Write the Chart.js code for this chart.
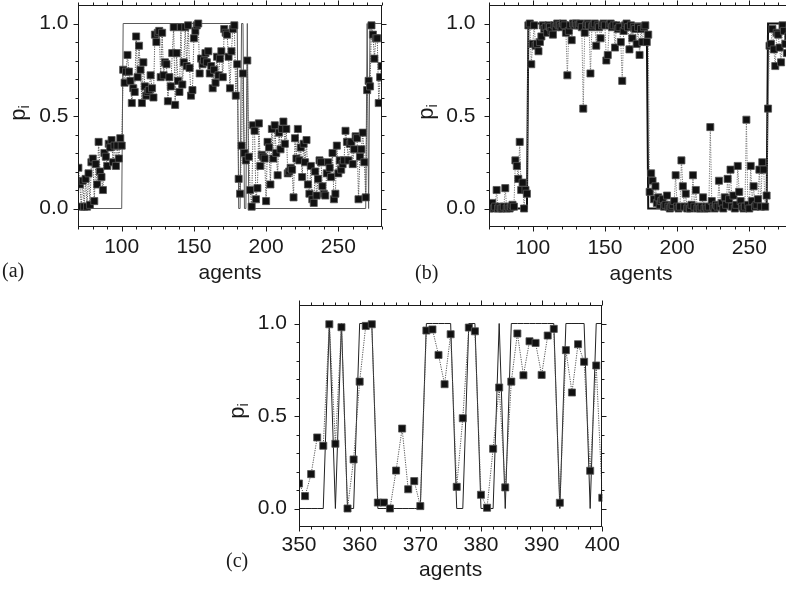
<!DOCTYPE html>
<html>
<head>
<meta charset="utf-8">
<script src="https://cdn.jsdelivr.net/npm/chart.js@4.4.0/dist/chart.umd.min.js"></script>
<style>
  html, body { margin: 0; padding: 0; background: #fff; width: 786px; height: 589px; overflow: hidden; }
  canvas { position: absolute; }
</style>
</head>
<body>
<canvas id="chartA" width="390" height="290" style="left:0;top:0"></canvas>
<canvas id="chartB" width="410" height="290" style="left:390px;top:0"></canvas>
<canvas id="chartC" width="440" height="299" style="left:200px;top:290px"></canvas>
<script>
// first agent index of panels (a) and (b); one p value per agent from here on
const firstAgentAB = 70;

// panel (a): measured p_i, agents 70..280
const pA = [
  0.22, 0.13, 0.01, 0.15, 0.01, 0.16, 0.01, 0.19, 0.02, 0.25,
  0.27, 0.04, 0.24, 0.13, 0.36, 0.20, 0.17, 0.10, 0.30, 0.28,
  0.23, 0.35, 0.33, 0.37, 0.25, 0.34, 0.23, 0.34, 0.27, 0.38,
  0.34, 0.75, 0.68, 0.74, 0.83, 0.74, 0.69, 0.57, 0.65, 0.63,
  0.93, 0.71, 0.88, 0.75, 0.57, 0.79, 0.66, 0.61, 0.63, 0.64,
  0.72, 0.65, 0.60, 0.94, 0.90, 0.95, 0.96, 0.71, 0.95, 0.72,
  0.79, 0.78, 0.58, 0.71, 0.66, 0.84, 0.98, 0.56, 0.84, 0.69,
  0.63, 0.98, 0.67, 0.79, 0.98, 0.77, 0.99, 0.76, 0.61, 0.64,
  0.92, 0.96, 0.99, 1.00, 0.73, 0.81, 0.78, 0.80, 0.84, 0.79,
  0.85, 0.73, 0.77, 0.65, 0.75, 0.68, 0.82, 0.72, 0.81, 0.85,
  0.71, 0.97, 0.95, 0.94, 0.82, 0.65, 0.85, 0.97, 0.99, 0.61,
  0.78, 0.16, 0.08, 0.34, 0.73, 0.30, 0.26, 0.80, 0.28, 0.10,
  0.01, 0.45, 0.42, 0.05, 0.11, 0.46, 0.23, 0.29, 0.28, 0.27,
  0.04, 0.36, 0.33, 0.13, 0.43, 0.27, 0.45, 0.30, 0.18, 0.41,
  0.32, 0.43, 0.47, 0.35, 0.43, 0.19, 0.20, 0.22, 0.21, 0.06,
  0.38, 0.27, 0.43, 0.26, 0.33, 0.17, 0.35, 0.25, 0.37, 0.13,
  0.08, 0.23, 0.05, 0.03, 0.20, 0.07, 0.16, 0.26, 0.25, 0.12,
  0.08, 0.07, 0.19, 0.25, 0.22, 0.17, 0.30, 0.05, 0.08, 0.34,
  0.19, 0.26, 0.21, 0.24, 0.26, 0.42, 0.36, 0.26, 0.35, 0.36,
  0.24, 0.32, 0.39, 0.38, 0.05, 0.28, 0.32, 0.41, 0.25, 0.06,
  0.64, 0.69, 0.66, 0.99, 0.94, 0.81, 0.92, 0.92, 0.57, 0.71,
  0.77
];
// panel (a): agent states, corner points of the 0/1 line
const stateAx = [70, 100, 101, 180, 181, 182, 183, 184, 185, 186, 187, 188, 269, 270, 271, 272, 280];
const stateAy = [0, 0, 1, 1, 0, 0, 1, 1, 0, 0, 1, 0, 0, 1, 0, 1, 1];

// panel (b): measured p_i, agents 70..280
const pB = [
  0.00, 0.01, 0.03, 0.00, 0.01, 0.10, 0.00, 0.01, 0.00, 0.00,
  0.01, 0.11, 0.00, 0.01, 0.00, 0.01, 0.02, 0.01, 0.26, 0.23,
  0.16, 0.36, 0.10, 0.14, 0.00, 0.10, 0.08, 0.99, 1.00, 0.78,
  0.89, 0.99, 0.88, 0.89, 0.85, 0.90, 0.93, 0.99, 0.97, 0.98,
  0.95, 0.99, 0.98, 0.96, 0.94, 0.99, 0.98, 1.00, 0.99, 0.99,
  0.98, 1.00, 0.99, 0.95, 0.72, 0.96, 0.99, 0.91, 1.00, 0.99,
  1.00, 0.99, 0.99, 1.00, 0.98, 0.54, 0.95, 0.99, 1.00, 0.99,
  0.73, 0.98, 0.99, 1.00, 0.88, 0.99, 0.98, 0.92, 0.99, 1.00,
  0.99, 0.80, 0.83, 0.99, 1.00, 0.98, 0.99, 0.87, 0.99, 0.97,
  0.98, 0.90, 0.69, 0.96, 0.99, 1.00, 0.98, 0.86, 0.99, 0.92,
  0.98, 0.97, 0.89, 0.98, 0.83, 0.97, 0.90, 0.98, 0.99, 0.90,
  0.94, 0.09, 0.19, 0.15, 0.05, 0.12, 0.03, 0.06, 0.02, 0.04,
  0.05, 0.01, 0.02, 0.07, 0.01, 0.00, 0.01, 0.02, 0.04, 0.18,
  0.01, 0.00, 0.01, 0.26, 0.12, 0.01, 0.08, 0.00, 0.01, 0.00,
  0.02, 0.18, 0.01, 0.10, 0.00, 0.01, 0.00, 0.01, 0.06, 0.00,
  0.01, 0.00, 0.01, 0.44, 0.04, 0.01, 0.00, 0.02, 0.01, 0.15,
  0.01, 0.03, 0.00, 0.06, 0.02, 0.16, 0.05, 0.21, 0.01, 0.07,
  0.00, 0.02, 0.23, 0.09, 0.04, 0.01, 0.00, 0.01, 0.48, 0.02,
  0.00, 0.23, 0.04, 0.12, 0.01, 0.02, 0.05, 0.21, 0.01, 0.25,
  0.21, 0.01, 0.07, 0.54, 0.88, 0.89, 0.97, 0.86, 0.77, 0.95,
  0.94, 0.87, 0.79, 0.99, 0.96, 0.89, 0.84, 0.93, 0.97, 0.90,
  0.88
];
const stateBx = [70, 96, 97, 179, 180, 262, 263, 280];
const stateBy = [0, 0, 1, 1, 0, 0, 1, 1];

// panel (c): agents 350..400
const agentsC = [
  350, 351, 352, 353, 354, 355, 356, 357, 358, 359,
  360, 361, 362, 363, 364, 365, 366, 367, 368, 369,
  370, 371, 372, 373, 374, 375, 376, 377, 378, 379,
  380, 381, 382, 383, 384, 385, 386, 387, 388, 389,
  390, 391, 392, 393, 394, 395, 396, 397, 398, 399,
  400
];
const pC = [
  0.135, 0.067, 0.186, 0.384, 0.339, 0.996, 0.350, 0.980, 0.000, 0.265,
  0.686, 0.987, 0.996, 0.032, 0.032, 0.000, 0.205, 0.432, 0.104, 0.148,
  0.013, 0.962, 0.968, 0.830, 0.672, 0.942, 0.117, 0.488, 0.978, 0.958,
  0.074, 0.004, 0.323, 0.654, 0.114, 0.686, 0.946, 0.720, 0.904, 0.895,
  0.722, 0.935, 0.971, 0.031, 0.856, 0.627, 0.888, 0.793, 0.204, 0.773,
  0.058
];
const stateC = [
  0, 0, 0, 0, 0, 1, 0, 1, 0, 0,
  1, 1, 1, 0, 0, 0, 0, 0, 0, 0,
  0, 1, 1, 1, 1, 1, 0, 0, 1, 1,
  0, 0, 0, 1, 0, 1, 1, 1, 1, 1,
  1, 1, 1, 0, 1, 1, 1, 1, 0, 1,
  1
];

const xTicksAB = [100, 150, 200, 250];
const xTicksC = [350, 360, 370, 380, 390, 400];
const yTicks = [0, 0.5, 1];

const ink = '#1a1a1a';
const sans = "'Liberation Sans', Arial, sans-serif";
const serif = "'Liberation Serif', 'Times New Roman', serif";

// box around the plot, outward major/minor ticks on all four sides,
// the rotated p_i axis title and the panel letter
const framePlugin = {
  id: 'frame',
  afterDatasetsDraw(chart, args, o) {
    const { ctx, chartArea: a, scales: { x, y } } = chart;
    const L = Math.round(a.left) + 0.5, R = Math.round(a.right) - 0.5;
    const T = Math.round(a.top) + 0.5, B = Math.round(a.bottom) - 0.5;
    ctx.save();
    ctx.strokeStyle = ink;
    ctx.lineWidth = 1;
    ctx.strokeRect(L, T, R - L, B - T);
    ctx.beginPath();
    for (let k = Math.ceil(x.min / o.xMinor - 1e-6); k * o.xMinor <= x.max + 1e-6; k++) {
      const v = k * o.xMinor;
      const px = Math.round(x.getPixelForValue(v)) + 0.5;
      const len = Math.abs(v / o.xMajor - Math.round(v / o.xMajor)) < 1e-6 ? 5 : 3;
      ctx.moveTo(px, B); ctx.lineTo(px, B + len);
      ctx.moveTo(px, T); ctx.lineTo(px, T - len);
    }
    for (let k = 0; k <= 10; k++) {
      const py = Math.round(y.getPixelForValue(k / 10)) + 0.5;
      const len = k % 5 === 0 ? 5 : 3;
      ctx.moveTo(L, py); ctx.lineTo(L - len, py);
      ctx.moveTo(R, py); ctx.lineTo(R + len, py);
    }
    ctx.stroke();

    // y title: p with subscript i, reading upward
    ctx.fillStyle = ink;
    ctx.font = '22px ' + sans;
    const wp = ctx.measureText('p').width;
    ctx.font = '14px ' + sans;
    const wi = ctx.measureText('i').width;
    ctx.translate(o.titleX, o.titleY);
    ctx.rotate(-Math.PI / 2);
    ctx.textBaseline = 'alphabetic';
    ctx.textAlign = 'left';
    const x0 = -(wp + wi) / 2;
    ctx.font = '22px ' + sans;
    ctx.fillText('p', x0, 0);
    ctx.font = '14px ' + sans;
    ctx.fillText('i', x0 + wp, 4);
    ctx.restore();

    ctx.save();
    ctx.fillStyle = ink;
    ctx.font = '20px ' + serif;
    ctx.textBaseline = 'alphabetic';
    ctx.fillText(o.tag, o.tagX, o.tagY);
    ctx.restore();
  }
};

function panel(id, p) {
  const font = { family: sans, size: 21 };
  return new Chart(document.getElementById(id), {
    type: 'scatter',
    data: {
      datasets: [
        {
          data: p.points,
          showLine: true,
          borderColor: p.dotColor,
          borderWidth: 1,
          borderDash: [1.2, 1.2],
          pointStyle: 'rect',
          pointRadius: 5,
          pointBackgroundColor: '#111',
          pointBorderColor: '#555',
          pointBorderWidth: 0.8,
          order: 1
        },
        {
          data: p.state,
          showLine: true,
          borderColor: p.lineColor,
          borderWidth: p.lineWidth,
          pointRadius: 0,
          order: 2
        }
      ]
    },
    options: {
      responsive: false,
      animation: false,
      events: [],
      layout: { autoPadding: false, padding: { left: 0, top: p.top, right: p.right, bottom: 0 } },
      plugins: {
        legend: { display: false },
        tooltip: { enabled: false },
        frame: p.frame
      },
      scales: {
        x: {
          type: 'linear',
          min: p.xMin,
          max: p.xMax,
          grid: { display: false, drawTicks: false },
          border: { display: false },
          afterBuildTicks: s => { s.ticks = p.xTicks.map(v => ({ value: v })); },
          afterFit: s => { s.height = p.xHeight; s.paddingLeft = 0; s.paddingRight = 0; },
          ticks: { color: ink, font, padding: p.xPad, maxRotation: 0, autoSkip: false },
          title: { display: true, text: 'agents', color: ink, font, padding: { top: 0, bottom: p.titlePad } }
        },
        y: {
          type: 'linear',
          min: -0.1,
          max: 1.1,
          grid: { display: false, drawTicks: false },
          border: { display: false },
          afterBuildTicks: s => { s.ticks = yTicks.map(v => ({ value: v })); },
          afterFit: s => { s.width = p.left; s.paddingTop = 0; s.paddingBottom = 0; },
          ticks: { color: ink, font, padding: p.yPad, callback: v => v.toFixed(1) }
        }
      }
    },
    plugins: [framePlugin]
  });
}

panel('chartA', {
  points: pA.map((v, i) => ({ x: firstAgentAB + i, y: v })),
  state: stateAx.map((v, i) => ({ x: v, y: stateAy[i] })),
  dotColor: '#555', lineColor: '#5a5a5a', lineWidth: 1,
  xMin: 70, xMax: 280, xTicks: xTicksAB,
  left: 78.4, right: 8.4, top: 5, xHeight: 63, xPad: 8, yPad: 10, titlePad: 4.5,
  frame: { xMinor: 10, xMajor: 50, titleX: 25, titleY: 113, tag: '(a)', tagX: 2, tagY: 277 }
});

panel('chartB', {
  points: pB.map((v, i) => ({ x: firstAgentAB + i, y: v })),
  state: stateBx.map((v, i) => ({ x: v, y: stateBy[i] })),
  dotColor: '#7a7a7a', lineColor: '#111', lineWidth: 2,
  xMin: 70, xMax: 280, xTicks: xTicksAB,
  left: 99.4, right: 7.4, top: 5, xHeight: 63, xPad: 9, yPad: 14, titlePad: 3.5,
  frame: { xMinor: 10, xMajor: 50, titleX: 43, titleY: 112, tag: '(b)', tagX: 25, tagY: 279 }
});

panel('chartC', {
  points: agentsC.map((a, i) => ({ x: a, y: pC[i] })),
  state: agentsC.map((a, i) => ({ x: a, y: stateC[i] })),
  dotColor: '#555', lineColor: '#222', lineWidth: 1,
  xMin: 350, xMax: 400, xTicks: xTicksC,
  left: 99, right: 37.7, top: 15, xHeight: 62, xPad: 6, yPad: 12, titlePad: 6.5,
  frame: { xMinor: 2, xMajor: 10, titleX: 43.5, titleY: 121, tag: '(c)', tagX: 26, tagY: 277 }
});
</script>
</body>
</html>
